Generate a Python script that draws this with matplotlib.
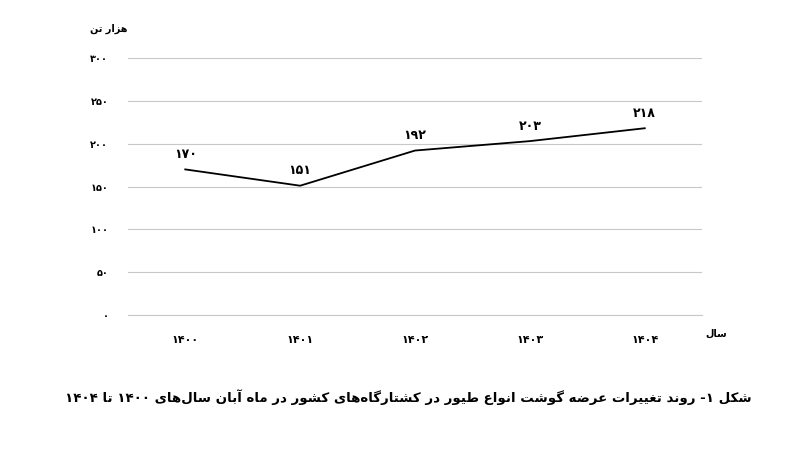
import re
import matplotlib
matplotlib.use("Agg")
import matplotlib.pyplot as plt

years = [1400, 1401, 1402, 1403, 1404]
values = [170, 151, 192, 203, 218]
yticks = [0, 50, 100, 150, 200, 250, 300]
title = "شکل ۱- روند تغییرات عرضه گوشت انواع طیور در کشتارگاه\u200cهای کشور در ماه آبان سال\u200cهای ۱۴۰۰ تا ۱۴۰۴"
ylab = "هزار تن"
xlab = "سال"

# minimal Persian shaping: (isolated, final, initial, medial)
FORMS = {
    "ا": (0xFE8D, 0xFE8E), "آ": (0xFE81, 0xFE82), "د": (0xFEA9, 0xFEAA),
    "ر": (0xFEAD, 0xFEAE), "ز": (0xFEAF, 0xFEB0), "و": (0xFEED, 0xFEEE),
    "ب": (0xFE8F, 0xFE90, 0xFE91, 0xFE92), "ت": (0xFE95, 0xFE96, 0xFE97, 0xFE98),
    "س": (0xFEB1, 0xFEB2, 0xFEB3, 0xFEB4), "ش": (0xFEB5, 0xFEB6, 0xFEB7, 0xFEB8),
    "ض": (0xFEBD, 0xFEBE, 0xFEBF, 0xFEC0), "ط": (0xFEC1, 0xFEC2, 0xFEC3, 0xFEC4),
    "ع": (0xFEC9, 0xFECA, 0xFECB, 0xFECC), "غ": (0xFECD, 0xFECE, 0xFECF, 0xFED0),
    "ل": (0xFEDD, 0xFEDE, 0xFEDF, 0xFEE0), "م": (0xFEE1, 0xFEE2, 0xFEE3, 0xFEE4),
    "ن": (0xFEE5, 0xFEE6, 0xFEE7, 0xFEE8), "ه": (0xFEE9, 0xFEEA, 0xFEEB, 0xFEEC),
    "ک": (0xFB8E, 0xFB8F, 0xFB90, 0xFB91), "گ": (0xFB92, 0xFB93, 0xFB94, 0xFB95),
    "ی": (0xFBFC, 0xFBFD, 0xFBFE, 0xFBFF),
}


def shape(s):
    out = []
    for i, c in enumerate(s):
        if c not in FORMS:
            if c != "\u200c":
                out.append(c)
            continue
        f = FORMS[c]
        prev = s[i - 1] if i > 0 else ""
        nxt = s[i + 1] if i + 1 < len(s) else ""
        jp = prev in FORMS and len(FORMS[prev]) == 4
        jn = len(f) == 4 and nxt in FORMS
        if jp and jn:
            cp = f[3]
        elif jp:
            cp = f[1]
        elif jn:
            cp = f[2]
        else:
            cp = f[0]
        out.append(chr(cp))
    r = "".join(out)[::-1]
    # keep digit runs left-to-right
    return re.sub(r"[۰-۹0-9]+", lambda m: m.group(0)[::-1], r)


def fa(n):
    return str(n).translate(str.maketrans("0123456789", "۰۱۲۳۴۵۶۷۸۹"))


plt.rcParams["font.family"] = ["DejaVu Sans"]
fig = plt.figure(figsize=(8.09, 4.49), dpi=100)
ax = fig.add_axes([0.158, 0.298, 0.71, 0.573])
x = range(len(years))
ax.plot(x, values, color="black", lw=1.3)
for xi, v in zip(x, values):
    ax.text(xi, v + 10, fa(v), ha="center", va="bottom", fontsize=9, fontweight="bold")
ax.set_xlim(-0.5, 4.5)
ax.set_ylim(0, 300)
ax.set_yticks(yticks)
ax.set_yticklabels([fa(t) for t in yticks], fontsize=7, fontweight="bold")
ax.set_xticks(list(x))
ax.set_xticklabels([fa(y) for y in years], fontsize=8, fontweight="bold")
ax.tick_params(length=0, pad=14)
ax.grid(axis="y", color="#c8c8c8", lw=0.8)
for s in ["top", "right", "left"]:
    ax.spines[s].set_visible(False)
ax.spines["bottom"].set_color("#c8c8c8")
fig.text(0.135, 0.93, shape(ylab), fontsize=7, fontweight="bold", ha="center")
fig.text(0.885, 0.25, shape(xlab), fontsize=7, fontweight="bold", ha="center")
fig.text(0.505, 0.105, shape(title), fontsize=9.6, fontweight="bold", ha="center")
fig.savefig("out.png", dpi=100)
